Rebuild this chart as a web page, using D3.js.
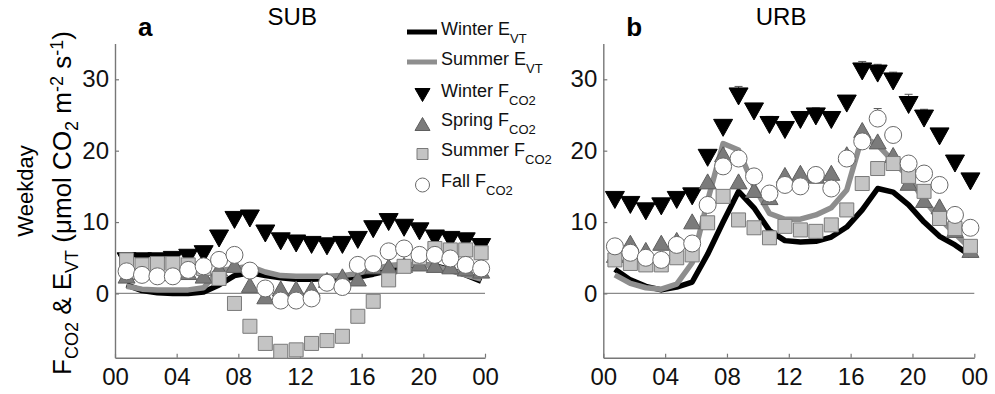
<!DOCTYPE html>
<html>
<head>
<meta charset="utf-8">
<script src="https://cdn.jsdelivr.net/npm/d3@7"></script>
<style>
  body { margin: 0; background: #fff; }
  svg { font-family: "Liberation Sans", Arial, sans-serif; }
</style>
</head>
<body>
<div class="chart"></div>
<script>
const width = 995, height = 394

// hour of day (bin centre)
const hours = [0.75, 1.75, 2.75, 3.75, 4.75, 5.75, 6.75, 7.75, 8.75, 9.75, 10.75, 11.75,
    12.75, 13.75, 14.75, 15.75, 16.75, 17.75, 18.75, 19.75, 20.75, 21.75, 22.75, 23.75]
const hourTicks = [0, 4, 8, 12, 16, 20, 24]
const hourLabels = ['00', '04', '08', '12', '16', '20', '00']
const yTicks = [0, 10, 20, 30]

// SUB
const winterE_sub = [1.2, 0.4, 0.1, 0.0, 0.0, 0.2, 1.2, 2.5, 2.9, 2.5, 2.2, 2.0, 2.0, 2.1, 2.1, 2.3, 2.7, 3.2, 3.8, 4.0, 3.9, 3.3, 2.6, 1.7]
const summerE_sub = [1.0, 0.6, 0.5, 0.5, 0.5, 0.8, 3.2, 3.5, 3.8, 3.0, 2.5, 2.4, 2.4, 2.4, 2.5, 2.8, 3.4, 3.9, 4.1, 4.0, 3.8, 3.2, 2.6, 2.0]
const winterF_sub = [4.5, 4.5, 4.5, 4.7, 5.0, 5.5, 7.7, 10.3, 10.5, 8.4, 7.3, 7.0, 6.8, 6.6, 6.8, 7.5, 9.0, 10.0, 9.2, 8.7, 7.7, 7.5, 7.3, 6.5]
const springF_sub = [2.5, 3.0, 3.0, 3.0, 3.0, 2.5, 3.5, 4.0, 1.2, -0.4, 0.7, 0.7, 0.7, 1.9, 2.4, 2.1, 3.8, 3.8, 4.0, 4.2, 4.0, 3.8, 3.5, 3.2]
const summerF_sub = [4.7, 4.0, 4.2, 4.2, 4.0, 3.5, 2.1, -1.4, -4.6, -7.0, -8.1, -7.9, -7.0, -6.6, -6.0, -3.2, -1.1, 1.9, 3.8, 5.0, 6.3, 6.1, 6.1, 5.7]
const fallF_sub = [3.1, 2.6, 2.4, 2.4, 3.3, 3.8, 4.7, 5.4, 3.2, 0.7, -1.0, -1.0, -0.7, 1.5, 0.9, 4.0, 4.1, 5.9, 6.3, 5.4, 5.4, 4.9, 4.0, 3.5]

// URB
const winterE_urb = [3.4, 1.9, 1.0, 0.5, 0.9, 1.6, 5.5, 10.0, 14.3, 12.0, 8.8, 7.4, 7.2, 7.3, 7.9, 9.3, 11.7, 14.7, 14.2, 12.4, 10.0, 8.0, 6.8, 5.3]
const summerE_urb = [2.6, 1.4, 0.8, 0.6, 1.3, 4.3, 13.0, 21.0, 20.1, 15.0, 11.2, 10.4, 10.4, 11.0, 12.0, 14.5, 22.0, 20.8, 18.5, 16.3, 13.1, 10.5, 8.4, 6.3]
const winterF_urb = [13.1, 12.4, 11.5, 12.2, 13.1, 13.6, 19.0, 23.2, 27.6, 25.5, 23.6, 22.9, 24.3, 24.8, 24.3, 26.6, 31.1, 30.8, 29.7, 26.4, 24.5, 22.0, 18.2, 15.7]
const springF_urb = [5.4, 7.1, 6.1, 7.1, 7.5, 10.1, 15.7, 19.5, 15.7, 14.5, 13.5, 16.6, 16.9, 16.5, 16.9, 19.5, 22.9, 21.3, 19.4, 15.5, 13.1, 12.2, 8.9, 6.1]
const summerF_urb = [4.7, 4.2, 4.0, 4.0, 5.0, 5.4, 9.9, 13.6, 10.3, 9.2, 7.8, 9.4, 8.9, 8.7, 9.6, 11.7, 15.4, 17.5, 18.2, 16.4, 14.3, 10.5, 9.1, 6.6]
const fallF_urb = [6.6, 5.7, 5.0, 4.7, 6.8, 7.0, 12.4, 17.8, 18.9, 16.4, 14.0, 15.2, 15.0, 16.6, 14.7, 18.9, 21.3, 24.5, 22.2, 18.2, 16.8, 15.2, 11.0, 9.2]
// upper error bars (only the ones sticking out of the markers show)
const winterFErr_urb = [0.6, 0.6, 0.6, 0.6, 0.6, 0.6, 0.6, 0.6, 1.4, 0.6, 1.2, 0.6, 0.6, 1.2, 0.6, 0.6, 1.4, 1.3, 1.3, 1.5, 1.3, 0.6, 0.6, 0.6]
const fallFErr_urb = [0.4, 0.4, 0.4, 0.4, 0.4, 0.4, 0.4, 0.4, 0.4, 0.4, 0.4, 0.4, 0.4, 0.4, 0.4, 0.4, 0.4, 1.4, 0.4, 0.4, 0.4, 0.4, 0.4, 0.4]

const legendLabels = [
    [['Winter E'], ['VT', 'sub']],
    [['Summer E'], ['VT', 'sub']],
    [['Winter F'], ['CO2', 'sub']],
    [['Spring F'], ['CO2', 'sub']],
    [['Summer F'], ['CO2', 'sub']],
    [['Fall F'], ['CO2', 'sub']]
]

const svg = d3.select('.chart').append('svg')
    .attr('width', width)
    .attr('height', height)

const y = d3.scaleLinear().domain([-9, 35]).range([357.7, 43.6])

const style = {
    winterE: { stroke: '#000', width: 5.5 },
    summerE: { stroke: '#8e8e8e', width: 5.5 },
    winterF: { fill: '#000', stroke: '#000' },
    springF: { fill: '#7b7b7b', stroke: '#5e5e5e' },
    summerF: { fill: '#c4c4c4', stroke: '#7a7a7a' },
    fallF: { fill: '#fff', stroke: '#6a6a6a' }
}

function triDown(w, h) { return `M${-w / 2},${-h / 2}L${w / 2},${-h / 2}L0,${h / 2}Z` }
function triUp(w, h) { return `M${-w / 2},${h / 2}L${w / 2},${h / 2}L0,${-h / 2}Z` }
function square(s) { return `M${-s / 2},${-s / 2}h${s}v${s}h${-s}Z` }
function circle(r) { return `M${-r},0a${r},${r} 0 1,0 ${2 * r},0a${r},${r} 0 1,0 ${-2 * r},0Z` }

// text with sub/superscripts
function richText(text, parts, size, subSize, shift) {
    let cur = 0
    parts.forEach(p => {
        let target = p[1] === 'sub' ? shift : p[1] === 'sup' ? -shift * 1.1 : 0
        text.append('tspan')
            .attr('dy', target - cur)
            .style('font-size', (p[1] ? subSize : size) + 'px')
            .text(p[0])
        cur = target
    })
}

function drawPanel(x0, x1, letter, title, d) {
    const x = d3.scaleLinear().domain([0, 24]).range([x0, x1])
    const g = svg.append('g')

    // zero line
    g.append('line')
        .attr('x1', x(0)).attr('x2', x(24))
        .attr('y1', y(0)).attr('y2', y(0))
        .attr('stroke', '#8a8a8a').attr('stroke-width', 1.2)

    const yAxis = g.append('g')
        .attr('transform', `translate(${x0},0)`)
        .call(d3.axisLeft(y).tickValues(yTicks).tickSizeInner(-4).tickSizeOuter(0).tickPadding(6))
    const xAxis = g.append('g')
        .attr('transform', `translate(0,${y(-9)})`)
        .call(d3.axisBottom(x).tickValues(hourTicks).tickFormat((t, i) => hourLabels[i])
            .tickSizeInner(-4).tickSizeOuter(0).tickPadding(10))
    ;[yAxis, xAxis].forEach(a => {
        a.select('.domain').attr('stroke', '#777').attr('stroke-width', 1.4)
        a.selectAll('.tick line').attr('stroke', '#777').attr('stroke-width', 1.2)
        a.selectAll('.tick text').attr('fill', '#111').style('font-size', '24px').style('font-family', null)
    })
    yAxis.attr('font-family', null)
    xAxis.attr('font-family', null)

    // lines
    const line = vals => d3.line().x((v, i) => x(hours[i])).y(v => y(v))(vals)
    g.append('path').attr('d', line(d.winterE))
        .attr('fill', 'none').attr('stroke', style.winterE.stroke)
        .attr('stroke-width', style.winterE.width).attr('stroke-linejoin', 'round')
    g.append('path').attr('d', line(d.summerE))
        .attr('fill', 'none').attr('stroke', style.summerE.stroke)
        .attr('stroke-width', style.summerE.width).attr('stroke-linejoin', 'round')

    // error bars
    if (d.errs) {
        d.errs.forEach(e => {
            const eb = g.append('g').selectAll('g')
                .data(e.vals.map((v, i) => ({ h: hours[i], v: v, err: e.err[i] })))
                .enter().append('g')
            eb.append('line')
                .attr('x1', p => x(p.h)).attr('x2', p => x(p.h))
                .attr('y1', p => y(p.v)).attr('y2', p => y(p.v + p.err))
                .attr('stroke', '#555').attr('stroke-width', 1)
            eb.append('line')
                .attr('x1', p => x(p.h) - 4).attr('x2', p => x(p.h) + 4)
                .attr('y1', p => y(p.v + p.err)).attr('y2', p => y(p.v + p.err))
                .attr('stroke', '#555').attr('stroke-width', 1)
        })
    }

    // markers
    const markers = [
        { vals: d.winterF, shape: triDown(19, 17), s: style.winterF },
        { vals: d.springF, shape: triUp(17, 15), s: style.springF },
        { vals: d.summerF, shape: square(14), s: style.summerF },
        { vals: d.fallF, shape: circle(8.5), s: style.fallF }
    ]
    markers.forEach(m => {
        g.append('g').selectAll('path')
            .data(m.vals)
            .enter().append('path')
            .attr('d', m.shape)
            .attr('transform', (v, i) => `translate(${x(hours[i])},${y(v)})`)
            .attr('fill', m.s.fill)
            .attr('stroke', m.s.stroke)
            .attr('stroke-width', 1)
    })

    // titles
    g.append('text')
        .attr('x', x0 + 23).attr('y', 36)
        .style('font-size', '26px').style('font-weight', 'bold')
        .text(letter)
    g.append('text')
        .attr('x', x(11.5)).attr('y', 25)
        .attr('text-anchor', 'middle')
        .style('font-size', '24px')
        .text(title)
}

drawPanel(115, 485, 'a', 'SUB', {
    winterE: winterE_sub, summerE: summerE_sub,
    winterF: winterF_sub, springF: springF_sub, summerF: summerF_sub, fallF: fallF_sub
})
drawPanel(603.3, 974.3, 'b', 'URB', {
    winterE: winterE_urb, summerE: summerE_urb,
    winterF: winterF_urb, springF: springF_urb, summerF: summerF_urb, fallF: fallF_urb,
    errs: [{ vals: winterF_urb, err: winterFErr_urb }, { vals: fallF_urb, err: fallFErr_urb }]
})

// y axis title
svg.append('text')
    .attr('transform', 'translate(33,191) rotate(-90)')
    .attr('text-anchor', 'middle')
    .style('font-size', '22px')
    .text('Weekday')
const yTitle = svg.append('text')
    .attr('transform', 'translate(71,203) rotate(-90)')
    .attr('text-anchor', 'middle')
richText(yTitle, [['F'], ['CO2', 'sub'], [' & E'], ['VT', 'sub'], [' (μmol CO'], ['2', 'sub'],
    [' m'], ['-2', 'sup'], [' s'], ['-1', 'sup'], [')']], 26, 18, 7)

// legend
const legend = svg.append('g').attr('class', 'legend')
const rowY = [32, 62, 95, 124, 154, 185]
legend.selectAll('line')
    .data([style.winterE, style.summerE])
    .enter().append('line')
    .attr('x1', 407).attr('x2', 437)
    .attr('y1', (s, i) => rowY[i]).attr('y2', (s, i) => rowY[i])
    .attr('stroke', s => s.stroke).attr('stroke-width', 5)
const legendMarkers = [
    { shape: triDown(15, 13), s: style.winterF },
    { shape: triUp(15, 13), s: style.springF },
    { shape: square(11), s: style.summerF },
    { shape: circle(7), s: style.fallF }
]
legend.selectAll('path')
    .data(legendMarkers)
    .enter().append('path')
    .attr('d', m => m.shape)
    .attr('transform', (m, i) => `translate(422.5,${rowY[i + 2]})`)
    .attr('fill', m => m.s.fill)
    .attr('stroke', m => m.s.stroke)
    .attr('stroke-width', 1)
legendLabels.forEach((parts, i) => {
    const t = legend.append('text')
        .attr('x', 441).attr('y', rowY[i] + (i < 2 ? 2.5 : 2))
        .attr('fill', '#111')
    richText(t, parts, 18, 13, 8)
})
</script>
</body>
</html>
